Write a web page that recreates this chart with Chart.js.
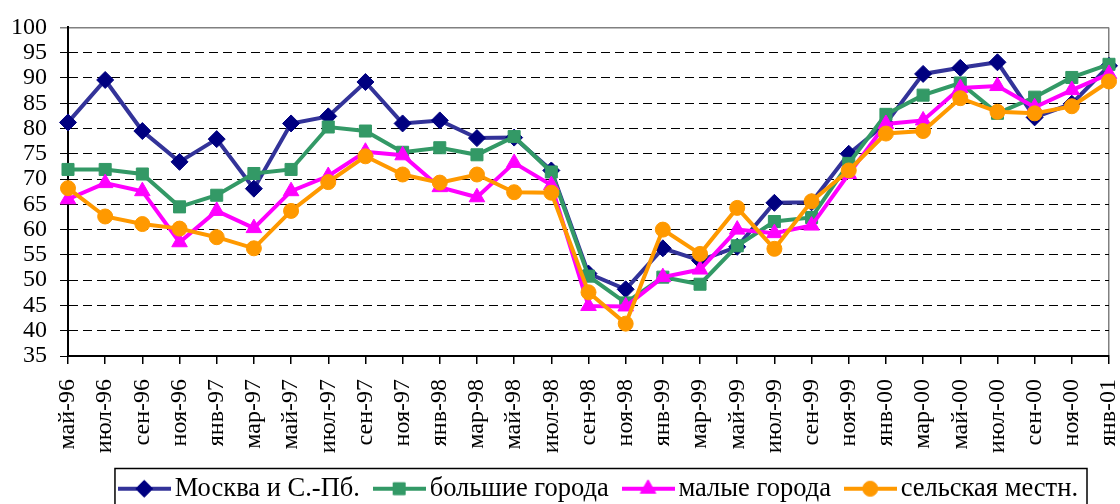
<!DOCTYPE html>
<html>
<head>
<meta charset="utf-8">
<script src="https://cdn.jsdelivr.net/npm/chart.js@4/dist/chart.umd.min.js"></script>
<style>
  html, body { margin: 0; padding: 0; background: #fff; }
</style>
</head>
<body>
<canvas id="chart" width="1120" height="504"></canvas>
<script>
/** Data */
const months = ['май-96', 'июл-96', 'сен-96', 'ноя-96', 'янв-97', 'мар-97', 'май-97', 'июл-97', 'сен-97', 'ноя-97',
    'янв-98', 'мар-98', 'май-98', 'июл-98', 'сен-98', 'ноя-98', 'янв-99', 'мар-99', 'май-99', 'июл-99',
    'сен-99', 'ноя-99', 'янв-00', 'мар-00', 'май-00', 'июл-00', 'сен-00', 'ноя-00', 'янв-01'];

const moscow = [81.2, 89.6, 79.5, 73.4, 77.9, 68.1, 81.0, 82.4, 89.2, 81.0, 81.6, 78.1, 78.2, 71.7, 51.3,
    48.2, 56.3, 53.9, 56.6, 65.3, 65.4, 75.0, 81.0, 90.8, 92.0, 93.1, 82.2, 84.9, 92.4];
const bigCities = [71.9, 71.9, 71.0, 64.5, 66.8, 71.1, 71.9, 80.3, 79.5, 75.3, 76.2, 74.8, 78.4, 71.4, 50.8,
    45.5, 50.6, 49.2, 56.8, 61.6, 62.4, 73.1, 82.8, 86.6, 89.0, 83.0, 86.2, 90.1, 92.7];
const smallCities = [66.0, 69.2, 67.6, 57.5, 63.7, 60.3, 67.6, 70.6, 75.4, 74.7, 68.4, 66.4, 73.2, 68.8, 44.9,
    44.8, 50.6, 52.1, 60.0, 59.3, 60.8, 71.0, 80.9, 81.6, 88.0, 88.4, 84.2, 87.6, 90.8];
const rural = [68.2, 62.6, 61.1, 60.2, 58.5, 56.3, 63.7, 69.4, 74.5, 70.9, 69.3, 70.9, 67.4, 67.3, 47.6,
    41.4, 60.0, 55.2, 64.3, 56.2, 65.6, 71.7, 79.0, 79.5, 86.0, 83.3, 83.0, 84.4, 89.3];

const seriesNames = ['Москва и С.-Пб.', 'большие города', 'малые города', 'сельская местн.'];

/** Styles */
Chart.defaults.font.family = '"Liberation Serif", "Times New Roman", serif';
Chart.defaults.font.size = 24;
Chart.defaults.color = '#000';

const styles = [
    { line: '#333399', mark: '#000080', point: 'rectRot', radius: 8.5 },
    { line: '#339966', mark: '#339966', point: 'rect', radius: 8.5 },
    { line: '#FF00FF', mark: '#FF00FF', point: 'triangle', radius: 9 },
    { line: '#FF9900', mark: '#FF9900', point: 'circle', radius: 7.5 }
];

// small line + marker picture for the legend
const legendIcon = (s) => {
    const c = document.createElement('canvas');
    c.width = 53;
    c.height = 22;
    const ctx = c.getContext('2d');
    ctx.strokeStyle = s.line;
    ctx.lineWidth = 4;
    ctx.beginPath();
    ctx.moveTo(0, 11);
    ctx.lineTo(53, 11);
    ctx.stroke();
    ctx.fillStyle = s.mark;
    ctx.strokeStyle = s.mark;
    ctx.lineWidth = 1;
    Chart.helpers.drawPoint(ctx, { pointStyle: s.point, radius: s.radius, rotation: 0, borderWidth: 1 }, 26.5, 11);
    return c;
};
const icons = styles.map(legendIcon);

// legend sits a bit left of the plot's right edge, with a frame round it
const legendFrame = {
    id: 'legendFrame',
    afterLayout(chart) {
        chart.legend.right -= 9;
    },
    afterDraw(chart) {
        const boxes = chart.legend.legendHitBoxes;
        if (!boxes || !boxes.length) return;
        const first = boxes[0];
        const last = boxes[boxes.length - 1];
        const ctx = chart.ctx;
        ctx.save();
        ctx.strokeStyle = '#000';
        ctx.lineWidth = 1.5;
        ctx.strokeRect(first.left - 12, first.top - 7, last.left + last.width - first.left + 21, 60);
        ctx.restore();
    }
};

const allSeries = [moscow, bigCities, smallCities, rural];

new Chart(document.getElementById('chart'), {
    type: 'line',
    data: {
        labels: months,
        datasets: allSeries.map((values, i) => ({
            label: seriesNames[i],
            data: values,
            borderColor: styles[i].line,
            borderWidth: 4,
            pointStyle: styles[i].point,
            pointRadius: styles[i].radius,
            pointBackgroundColor: styles[i].mark,
            pointBorderColor: styles[i].mark,
            pointBorderWidth: 1,
            tension: 0,
            fill: false,
            order: 4 - i
        }))
    },
    options: {
        responsive: false,
        animation: false,
        devicePixelRatio: 1,
        layout: {
            padding: { top: 24, right: 11, left: 0, bottom: -8 }
        },
        plugins: {
            title: { display: false },
            tooltip: { enabled: false },
            legend: {
                display: true,
                position: 'bottom',
                align: 'end',
                fullSize: false,
                labels: {
                    usePointStyle: true,
                    pointStyleWidth: 34.5,
                    padding: 22,
                    font: { size: 26.5 },
                    generateLabels: (chart) => chart.data.datasets.map((ds, i) => ({
                        text: ds.label,
                        pointStyle: icons[i],
                        fillStyle: styles[i].mark,
                        strokeStyle: styles[i].mark,
                        lineWidth: 0,
                        hidden: false,
                        fontColor: '#000',
                        datasetIndex: i
                    }))
                }
            }
        },
        scales: {
            x: {
                offset: false,
                afterFit: (scale) => {
                    scale.height = 97.5;
                    scale.paddingLeft = 0;
                    scale.paddingRight = 0;
                },
                ticks: {
                    autoSkip: false,
                    maxRotation: 90,
                    minRotation: 90,
                    padding: 15
                },
                grid: {
                    drawOnChartArea: true,
                    color: (ctx) => ctx.index === months.length - 1 ? '#808080' : 'rgba(0,0,0,0)',
                    tickColor: '#000',
                    tickLength: 8,
                    lineWidth: 1.5
                },
                border: { color: '#000', width: 2 }
            },
            y: {
                min: 35,
                max: 100,
                afterFit: (scale) => { scale.width = 68; },
                ticks: {
                    stepSize: 5,
                    autoSkip: false,
                    padding: 13
                },
                grid: {
                    color: (ctx) => ctx.tick && ctx.tick.value === 100 ? '#808080' : '#000',
                    lineWidth: (ctx) => ctx.tick && ctx.tick.value === 100 ? 1.5 : 1,
                    tickLength: 8
                },
                border: {
                    color: '#000',
                    width: 2,
                    dash: (ctx) => ctx.tick && ctx.tick.value === 100 ? [] : [9, 5]
                }
            }
        }
    },
    plugins: [legendFrame]
});
</script>
</body>
</html>
